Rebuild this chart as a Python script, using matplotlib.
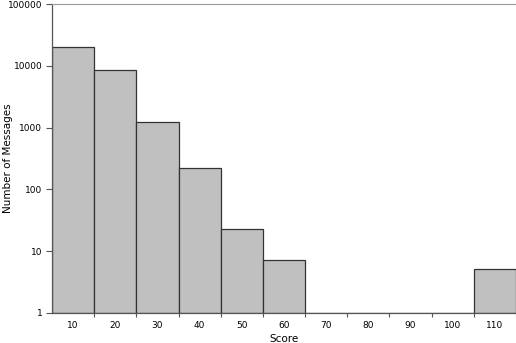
import matplotlib
matplotlib.use("Agg")
import matplotlib.pyplot as plt
import numpy as np

scores = [10, 20, 30, 40, 50, 60, 70, 80, 90, 100, 110]
counts = [20000, 8450, 1220, 222, 23, 7.3, 0, 0, 0, 0, 5.1]
y_ticks = [1, 10, 100, 1000, 10000, 100000]

fig = plt.figure(figsize=(5.16, 3.43), dpi=100)
ax = fig.add_axes([52 / 516, 30 / 343, 464 / 516, 309 / 343])

pos = np.arange(len(scores))
heights = [c - 1 if c > 1 else 0 for c in counts]
ax.bar(pos, heights, bottom=1, width=1.0, color="#c0c0c0",
       edgecolor="#333333", linewidth=0.9)

ax.set_yscale("log")
ax.set_ylim(1, 100000)
ax.set_xlim(-0.5, len(scores) - 0.5)

ax.set_yticks(y_ticks)
ax.set_yticklabels([str(t) for t in y_ticks])
ax.yaxis.set_minor_locator(matplotlib.ticker.NullLocator())
ax.tick_params(axis="y", length=4, width=0.8, color="#555555",
               labelsize=6.5, pad=3)

ax.set_xticks(pos)
ax.set_xticklabels([str(s) for s in scores])
ax.set_xticks(np.arange(len(scores)) + 0.5, minor=True)
ax.tick_params(axis="x", which="major", length=0, labelsize=6.5, pad=6)
ax.tick_params(axis="x", which="minor", length=3, width=0.8, color="#555555")

for side in ["left", "bottom"]:
    ax.spines[side].set_color("#555555")
    ax.spines[side].set_linewidth(0.9)
ax.spines["top"].set_color("#999999")
ax.spines["top"].set_linewidth(0.8)
ax.spines["right"].set_visible(False)

ax.set_xlabel("Score", fontsize=7.5)
ax.set_ylabel("Number of Messages", fontsize=7.5)
# place labels by axes-fraction coords to keep them inside the canvas
ax.xaxis.set_label_coords(0.5, -25.5 / 309)
ax.yaxis.set_label_coords(-44 / 464, 0.5)
ax.xaxis.label.set_va("center")
ax.yaxis.label.set_va("center")

fig.savefig("out.png", dpi=100)
